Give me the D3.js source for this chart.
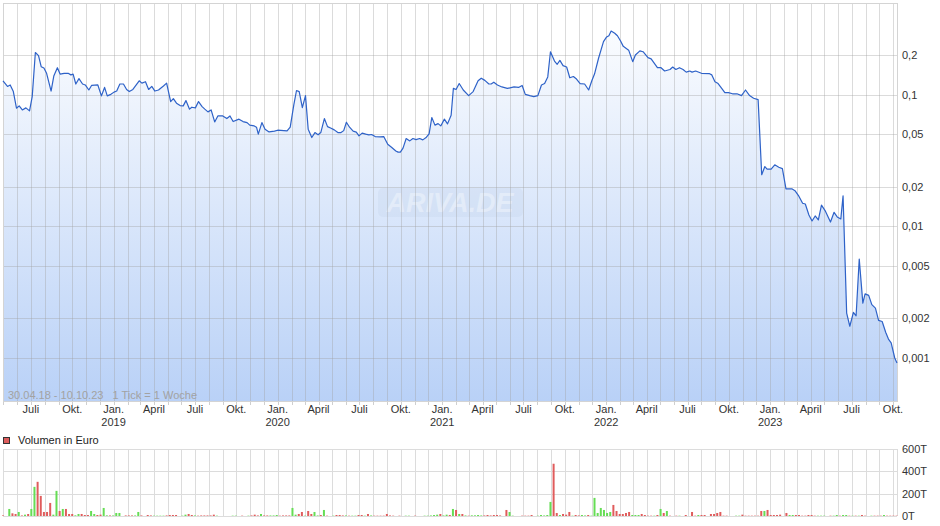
<!DOCTYPE html>
<html><head><meta charset="utf-8">
<script src="https://cdn.jsdelivr.net/npm/d3@7"></script>
<style>body{margin:0;background:#fff} svg{display:block;font-family:"Liberation Sans",Arial,sans-serif}</style>
</head><body><svg id="c" width="940" height="526"></svg>
<script>
// ---------- DATA ----------
const startDate = "2018-04-30", endDate = "2023-10-10";
// days since 30.04.18
const priceDays = [0,10,16,23,30,36,43,51,59,65,72,79,85,91,97,107,113,121,127,136,145,151,156,162,169,177,183,191,197,211,219,226,232,240,247,253,260,268,275,281,289,303,309,317,324,331,338,346,357,364,373,379,386,394,401,407,415,420,428,435,443,449,456,463,471,478,489,498,505,512,525,534,543,549,559,564,568,576,583,592,604,611,632,639,647,653,659,666,673,679,687,694,701,707,715,722,730,737,745,752,758,764,771,779,786,792,799,807,814,820,828,839,847,856,865,874,879,884,890,897,905,912,919,927,934,942,948,954,961,968,974,982,989,997,1002,1008,1015,1024,1036,1046,1057,1064,1072,1081,1086,1092,1100,1110,1122,1137,1147,1155,1162,1172,1181,1190,1198,1205,1212,1218,1227,1233,1239,1246,1254,1261,1269,1276,1284,1294,1303,1310,1316,1325,1336,1343,1348,1353,1361,1367,1374,1380,1392,1401,1407,1417,1424,1435,1442,1456,1464,1472,1484,1490,1497,1505,1513,1520,1528,1533,1541,1554,1572,1577,1584,1591,1599,1606,1614,1623,1633,1643,1652,1661,1670,1680,1688,1695,1700,1709,1717,1726,1734,1742,1755,1762,1771,1779,1785,1793,1800,1807,1814,1821,1829,1841,1849,1856,1864,1869,1877,1884,1892,1898,1905,1913,1918,1926,1933,1941,1948,1956,1964,1970,1976,1984,1989];
const prices = [0.128,0.116,0.119,0.106,0.0792,0.0825,0.0769,0.0797,0.0756,0.0971,0.210,0.199,0.164,0.160,0.146,0.107,0.139,0.161,0.144,0.146,0.146,0.142,0.144,0.121,0.133,0.121,0.119,0.109,0.118,0.119,0.0983,0.114,0.0983,0.101,0.105,0.107,0.121,0.121,0.110,0.106,0.110,0.128,0.123,0.126,0.110,0.116,0.107,0.109,0.117,0.123,0.0890,0.0937,0.0865,0.0829,0.0825,0.0905,0.0779,0.0806,0.0797,0.0890,0.0815,0.0779,0.0743,0.0769,0.0623,0.0692,0.0692,0.0661,0.0692,0.0627,0.0654,0.0627,0.0616,0.0589,0.0581,0.0568,0.0503,0.0616,0.0549,0.0523,0.0530,0.0539,0.0532,0.0568,0.0839,0.108,0.106,0.0801,0.0988,0.0549,0.0474,0.0517,0.0497,0.0517,0.0661,0.0574,0.0558,0.0542,0.0517,0.0517,0.0535,0.0620,0.0568,0.0530,0.0521,0.0488,0.0512,0.0503,0.0497,0.0500,0.0482,0.0479,0.0482,0.0422,0.0398,0.0375,0.0367,0.0367,0.0394,0.0466,0.0447,0.0466,0.0457,0.0466,0.0455,0.0477,0.0506,0.0672,0.0589,0.0605,0.0581,0.0654,0.0602,0.0701,0.112,0.110,0.122,0.109,0.0988,0.106,0.128,0.134,0.129,0.121,0.121,0.125,0.119,0.115,0.112,0.115,0.114,0.118,0.101,0.0988,0.0971,0.0988,0.119,0.122,0.137,0.213,0.181,0.171,0.183,0.167,0.163,0.135,0.138,0.132,0.122,0.121,0.109,0.128,0.144,0.190,0.254,0.276,0.282,0.306,0.294,0.282,0.257,0.234,0.219,0.179,0.201,0.216,0.213,0.192,0.188,0.161,0.161,0.152,0.156,0.163,0.156,0.161,0.156,0.149,0.152,0.149,0.152,0.146,0.145,0.142,0.126,0.122,0.112,0.104,0.104,0.102,0.102,0.0988,0.109,0.0988,0.0944,0.0921,0.0247,0.0285,0.0273,0.0273,0.0294,0.0282,0.0275,0.0193,0.0193,0.0187,0.0169,0.0150,0.0148,0.0122,0.0110,0.0120,0.0112,0.0145,0.0132,0.0108,0.0128,0.0118,0.0114,0.0171,0.00219,0.00174,0.00222,0.00209,0.00564,0.00261,0.00307,0.00299,0.00254,0.00239,0.00193,0.00189,0.00156,0.00139,0.00130,0.000998,0.000915];
const priceTicks = [0.2,0.1,0.05,0.02,0.01,0.005,0.002,0.001];
const monthNames = {0:"Jan.",3:"April",6:"Juli",9:"Okt."};
// weekly volume (thousand EUR), week index since 30.04.18, 1 = up week (green)
const volWeeks = [0,2,3,4,5,6,7,8,9,10,11,12,13,14,15,16,17,18,19,20,21,22,23,24,25,26,27,28,29,30,31,32,33,34,35,36,37,39,40,41,42,43,44,46,47,48,49,50,51,52,53,54,55,57,58,59,60,61,62,63,64,65,66,67,68,73,74,76,78,79,80,81,82,83,84,85,86,87,88,89,90,91,92,93,94,95,96,97,98,99,100,101,102,103,105,106,107,108,109,110,111,112,113,114,115,116,117,118,119,120,121,122,123,124,126,128,129,131,134,135,136,137,138,139,140,141,142,143,144,145,146,147,148,149,150,151,152,153,154,155,156,157,158,160,161,162,165,166,167,168,170,171,172,173,174,175,176,177,178,179,180,181,182,183,184,185,186,187,188,189,190,191,192,193,194,195,196,197,198,199,200,201,202,203,204,205,206,207,208,209,210,211,212,214,215,217,219,220,221,222,223,225,226,227,228,229,230,233,234,235,236,237,238,239,240,241,242,243,244,245,246,247,249,250,251,252,253,254,255,256,257,258,259,260,261,263,264,265,266,267,268,269,270,271,272,273,274,276,277,278,279,280,281,282,283,284];
const volumes = [5,63,24,18,36,5,12,18,63,261,306,180,36,36,117,12,225,45,63,63,18,18,6,18,18,9,9,45,18,9,12,72,6,5,5,27,27,5,5,5,5,36,5,9,5,3,3,3,3,5,9,9,9,3,12,18,9,5,3,5,5,5,5,12,3,3,3,3,3,5,12,5,18,5,5,5,5,9,3,5,5,5,72,12,18,36,3,45,18,36,5,9,54,3,3,9,9,5,5,3,3,3,9,9,3,18,5,3,3,3,3,18,5,3,3,3,3,3,3,3,5,9,12,18,5,12,9,63,54,18,18,5,3,6,6,9,5,5,9,5,9,9,5,54,36,3,3,3,3,9,3,9,5,9,126,468,27,9,18,12,36,3,9,5,9,5,9,3,162,27,72,54,27,36,99,45,18,18,27,36,9,9,9,18,9,3,3,3,9,63,27,45,3,3,3,9,36,3,9,9,9,18,18,27,36,3,3,3,3,12,3,3,3,3,3,45,45,54,9,9,9,12,27,9,9,9,9,3,3,9,9,3,3,3,3,3,3,9,3,9,9,3,3,3,3,9,3,3,3,3,3,9,3,3,3,3];
const volUp = [0,1,0,0,1,0,1,0,1,1,0,0,0,0,0,1,1,0,1,0,0,0,1,1,0,0,0,1,1,0,0,1,1,0,1,1,1,0,0,0,1,1,0,0,0,1,1,1,1,0,0,0,0,1,1,0,0,1,0,0,0,0,0,0,1,1,1,0,1,0,0,0,1,0,0,1,1,1,0,0,0,0,1,1,0,0,1,0,0,1,1,0,1,0,1,0,0,0,1,0,1,1,0,0,1,0,1,0,0,0,0,0,0,0,0,1,1,0,1,1,1,1,1,0,1,1,0,1,0,1,0,1,0,1,1,1,1,0,0,0,0,0,0,0,1,1,0,0,0,0,1,1,1,1,1,0,0,1,0,0,0,1,0,0,1,1,0,1,1,1,1,1,1,1,0,0,0,0,0,0,1,1,1,0,0,0,0,1,0,1,0,1,0,0,1,0,0,0,1,0,0,0,0,0,0,0,0,1,1,0,0,0,0,0,0,0,1,0,0,0,0,0,0,1,1,0,0,0,0,0,0,0,1,1,1,0,1,1,0,1,1,0,1,0,1,0,0,1,0,0,0,1,0,0,0,0];
const volTicks = [0,200,400,600];
const rangeLabel = "30.04.18 - 10.10.23   1 Tick = 1 Woche";
const volumeLegend = "Volumen in Euro";
const watermark = "ARIVA.DE";

// ---------- CHART ----------
const svg = d3.select("#c");
const parse = d3.timeParse("%Y-%m-%d");
const t0 = parse(startDate), t1 = parse(endDate);
const L = 3, R = 897, T = 3, B = 401;
const VT = 449, VB = 516;
const x = d3.scaleTime().domain([t0, t1]).range([L, R]);
const y = d3.scaleLog().domain([0.00047, 0.5]).range([B, T]);
const yv = d3.scaleLinear().domain([0, 600]).range([VB, VT]);
const loc = d3.formatLocale({decimal: ",", thousands: ".", grouping: [3], currency: ["", "€"]});
const fmt = loc.format("~g");

const data = priceDays.map((d, i) => ({date: d3.timeDay.offset(t0, d), v: prices[i]}));
const months = d3.timeMonth.range(d3.timeMonth.ceil(d3.timeDay.offset(t0, 1)), t1);

const defs = svg.append("defs");
const grad = defs.append("linearGradient").attr("id", "fillg")
  .attr("gradientUnits", "userSpaceOnUse").attr("x1", 0).attr("x2", 0).attr("y1", T).attr("y2", B);
grad.append("stop").attr("offset", "0%").attr("stop-color", "#ffffff");
grad.append("stop").attr("offset", "100%").attr("stop-color", "#b9d1f7");

// area
svg.append("path").datum(data)
  .attr("d", d3.area().x(d => x(d.date)).y0(B).y1(d => y(d.v)))
  .attr("fill", "url(#fillg)");

// watermark
const wm = svg.append("g").attr("transform", "translate(450,202)");
wm.append("rect").attr("x", -72).attr("y", -14).attr("width", 145).attr("height", 29).attr("rx", 5)
  .attr("fill", "#c5d3ea").attr("opacity", 0.3);
wm.append("text").attr("text-anchor", "middle").attr("y", 10).attr("font-size", 27)
  .attr("font-style", "italic").attr("font-weight", "bold").attr("fill", "#ffffff").attr("opacity", 0.35)
  .text(watermark);

// grid (price)
const grid = svg.append("g").attr("stroke", "#a0a0a0").attr("stroke-opacity", 0.38).attr("stroke-width", 1);
grid.selectAll(".vg").data(months).join("line")
  .attr("x1", d => Math.round(x(d)) + 0.5).attr("x2", d => Math.round(x(d)) + 0.5)
  .attr("y1", T).attr("y2", B);
grid.selectAll(".hg").data(priceTicks).join("line")
  .attr("x1", L).attr("x2", R).attr("y1", d => Math.round(y(d)) + 0.5).attr("y2", d => Math.round(y(d)) + 0.5);
// frame
svg.append("rect").attr("x", L + 0.5).attr("y", T + 0.5).attr("width", R - L).attr("height", B - T)
  .attr("fill", "none").attr("stroke", "#d4d4d4");

// line
svg.append("path").datum(data)
  .attr("d", d3.line().x(d => x(d.date)).y(d => y(d.v)))
  .attr("fill", "none").attr("stroke", "#2e62c8").attr("stroke-width", 1.2).attr("stroke-linejoin", "round");

// range label
svg.append("text").attr("x", 8).attr("y", 399).attr("font-size", 11).attr("fill", "#a2a2a2")
  .attr("xml:space", "preserve").style("white-space", "pre").text(rangeLabel);

// price axis labels
svg.append("g").selectAll("text").data(priceTicks).join("text")
  .attr("x", 902).attr("y", d => y(d)).attr("dy", "0.35em").attr("font-size", 11).attr("fill", "#333")
  .text(d => fmt(d));

// month ticks under plot
svg.append("g").selectAll("line").data(months).join("line")
  .attr("x1", d => Math.round(x(d)) + 0.5).attr("x2", d => Math.round(x(d)) + 0.5)
  .attr("y1", B + 1).attr("y2", B + 4).attr("stroke", "#cfcfcf");

// x labels
const quarters = months.filter(d => d.getMonth() % 3 === 0);
const xl = svg.append("g").attr("font-size", 11).attr("fill", "#333").attr("text-anchor", "middle");
xl.selectAll(".m").data(quarters).join("text")
  .attr("x", d => x(d)).attr("y", 413).text(d => monthNames[d.getMonth()]);
xl.selectAll(".yr").data(quarters.filter(d => d.getMonth() === 0)).join("text")
  .attr("x", d => x(d)).attr("y", 426).text(d => d.getFullYear());

// legend
svg.append("rect").attr("x", 3.5).attr("y", 437.5).attr("width", 6).attr("height", 6)
  .attr("fill", "#dd5c5c").attr("stroke", "#333");
svg.append("text").attr("x", 18).attr("y", 444).attr("font-size", 11).attr("fill", "#222").text(volumeLegend);

// volume grid
const vg = svg.append("g").attr("stroke", "#dcdcdc");
vg.selectAll(".v").data(months).join("line")
  .attr("x1", d => Math.round(x(d)) + 0.5).attr("x2", d => Math.round(x(d)) + 0.5).attr("y1", VT).attr("y2", VB);
vg.selectAll(".h").data(volTicks).join("line")
  .attr("x1", L).attr("x2", R).attr("y1", d => Math.round(yv(d)) + 0.5).attr("y2", d => Math.round(yv(d)) + 0.5);
vg.append("line").attr("x1", L + 0.5).attr("x2", L + 0.5).attr("y1", VT).attr("y2", VB);
vg.append("line").attr("x1", R + 0.5).attr("x2", R + 0.5).attr("y1", VT).attr("y2", VB);

// volume bars
const vols = volWeeks.map((w, i) => ({date: d3.timeDay.offset(t0, 7 * w), v: volumes[i], up: volUp[i]}));
svg.append("g").selectAll("rect").data(vols).join("rect")
  .attr("x", d => x(d.date) - 1).attr("width", 2)
  .attr("y", d => yv(d.v)).attr("height", d => yv(0) - yv(d.v))
  .attr("fill", d => d.up ? "#66dd55" : "#e05c5c");

// volume labels
svg.append("g").selectAll("text").data(volTicks).join("text")
  .attr("x", 902).attr("y", d => yv(d)).attr("dy", "0.35em").attr("font-size", 11).attr("fill", "#333")
  .text(d => d + "T");
</script></body></html>
